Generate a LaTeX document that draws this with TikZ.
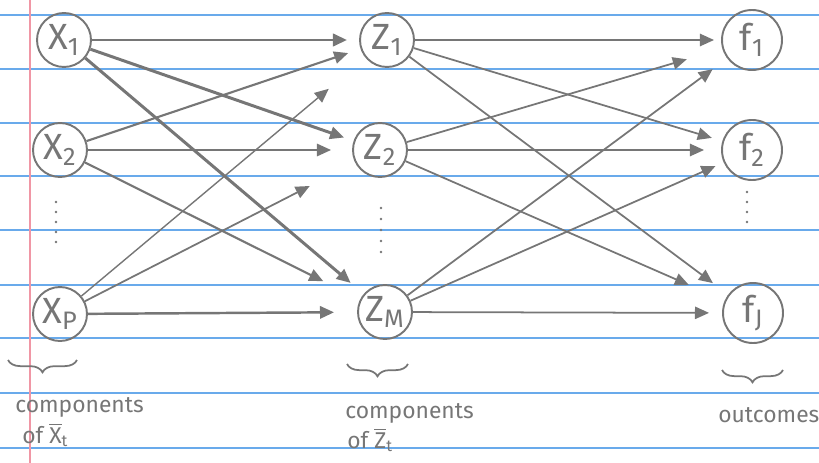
\documentclass[tikz,border=0pt]{standalone}
\usepackage{fontspec}
\setmainfont{Fira Sans}
\usetikzlibrary{arrows.meta,decorations.pathreplacing,positioning}
\definecolor{pencil}{RGB}{118,118,118}
\definecolor{ruling}{RGB}{105,170,235}
\definecolor{margin}{RGB}{240,150,165}
\tikzset{
  unit/.style={
    shape = circle,
    draw = pencil,
    line width = 1.1pt,
    minimum size = 1.08cm,
    inner sep = 0pt,
    text = pencil,
    font = \huge
  },
  wire/.style={
    draw = pencil,
    line width = 1pt,
    -{Triangle[length=8pt,width=7pt]}
  },
  brc/.style={
    decorate,
    decoration={brace, mirror, amplitude=7pt},
    draw = pencil,
    line width = 1pt
  },
  note/.style={
    text = pencil,
    inner sep = 0pt,
    font = \fontsize{13}{15}\selectfont
  },
}

\begin{document}
\begin{tikzpicture}[x=0.02cm, y=-0.02cm]
\useasboundingbox (0,0) rectangle (819,463);
% lined paper
\foreach \y in {15,69,123,176,230,285,338,393,448}
  \draw[ruling, line width=1.3pt] (0,\y) -- (819,\y);
\draw[margin, line width=0.8pt] (30,0) -- (30,463);
% inputs
\node[unit] (x1) at (64,40) {X\textsubscript{1}};
\node[unit] (x2) at (60,150) {X\textsubscript{2}};
\node[unit] (xp) at (60,314) {X\textsubscript{P}};
% hidden components
\node[unit] (z1) at (387,40) {Z\textsubscript{1}};
\node[unit] (z2) at (380,150) {Z\textsubscript{2}};
\node[unit] (zm) at (385,312) {Z\textsubscript{M}};
% outcomes
\node[unit, minimum size=1.2cm] (f1) at (752,40) {f\textsubscript{1}};
\node[unit, minimum size=1.2cm] (f2) at (752,150) {f\textsubscript{2}};
\node[unit, minimum size=1.2cm] (fj) at (753,313) {f\textsubscript{J}};
% vertical dots
\foreach \y in {202,212,222,232,242}
  \fill[pencil] (56,\y) circle (1.3);
\foreach \y in {208,219,230,241,252}
  \fill[pencil] (381,\y) circle (1.3);
\foreach \y in {192,202,212,222}
  \fill[pencil] (747,\y) circle (1.3);
% first layer
\foreach \a/\b/\s/\w in {x1/z1/12/1.7, x1/z2/10/1.7, x1/zm/17/1.7,
                         x2/z1/13/1.2, x2/z2/21/1.2, x2/zm/41/1.2,
                         xp/z1/48/0.8, xp/z2/51/1.0, xp/zm/23/1.4}
  \draw[wire, line width=\w pt, shorten >=\s*0.02cm] (\a) -- (\b);
% second layer
\foreach \a/\b/\s in {z1/f1/7, z1/f2/11, z1/fj/19,
                      z2/f1/37, z2/f2/17, z2/fj/39,
                      zm/f1/18, zm/f2/9, zm/fj/13}
  \draw[wire, shorten >=\s*0.02cm] (\a) -- (\b);
% braces and captions
\draw[brc] (8,360) -- (77,360);
\draw[brc] (347,364) -- (408,364);
\draw[brc] (722,370) -- (783,370);
\node[note, anchor=base west] (xcomp) at (15,412) {components};
\node[note, anchor=base west] (xof) at (22,443) {of $\overline{\mbox{X}}$\textsubscript{t}};
\node[note, anchor=base west] (zcomp) at (345,418) {components};
\node[note, anchor=base west] (zof) at (347,448) {of $\overline{\mbox{Z}}$\textsubscript{t}};
\node[note, anchor=base west] (out) at (718,422) {outcomes};
\end{tikzpicture}
\end{document}
